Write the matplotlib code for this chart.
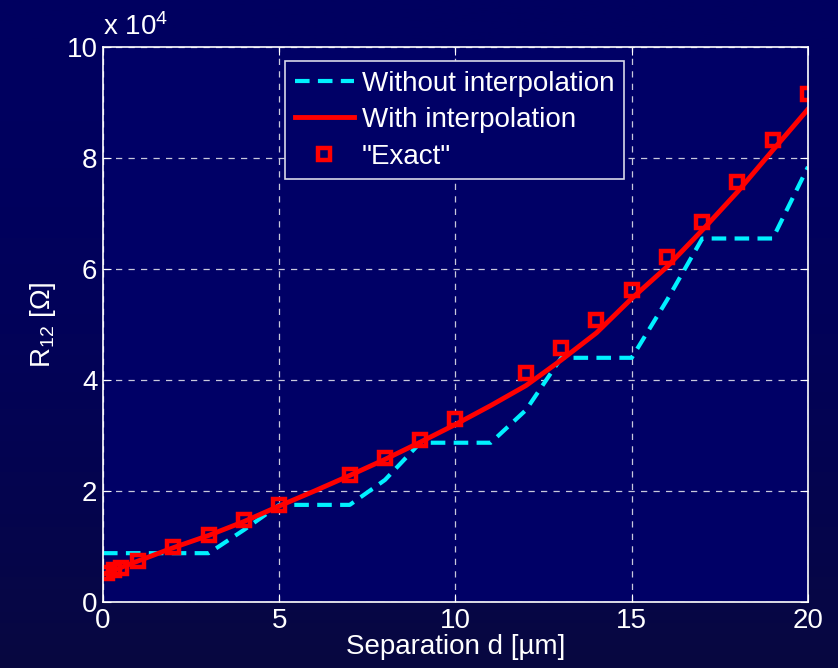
import numpy as np
import matplotlib.pyplot as plt
from matplotlib.colors import LinearSegmentedColormap

plt.rcParams['font.family'] = ['Liberation Sans', 'DejaVu Sans']
plt.rcParams['mathtext.default'] = 'regular'

# separation d [um]
d_grid = np.arange(0, 21)

# without interpolation (piecewise from coarse table)
r_nointerp = [8800, 8800, 8800, 8800, 13000, 17500, 17500, 17500, 22000, 28700,
              28700, 28700, 34600, 44000, 44000, 44000, 54400, 65500, 65500, 65500, 78400]

# with interpolation
r_interp = [5000, 7400, 9800, 12000, 14500, 17300, 20000, 22800, 25700, 28800,
            32000, 35400, 39000, 43600, 48500, 54700, 60400, 67000, 73900, 81400, 88800]

# "exact" reference points
d_exact = [0.1, 0.3, 0.5, 1, 2, 3, 4, 5, 7, 8, 9, 10, 12, 13, 14, 15, 16, 17, 18, 19, 20]
r_exact = [5300, 5800, 6200, 7440, 9860, 12100, 14800, 17400, 22900, 26000, 29200, 32900,
           41200, 45700, 50800, 56200, 62100, 68500, 75600, 83200, 91500]

navy = '#000066'

fig = plt.figure(figsize=(8.38, 6.68), dpi=100)

# background gradient
bg = fig.add_axes([0, 0, 1, 1], zorder=-10)
grad = np.linspace(0, 1, 256).reshape(-1, 1) ** 2
cmap = LinearSegmentedColormap.from_list('bg', ['#000060', '#080840'])
bg.imshow(grad, aspect='auto', cmap=cmap, extent=[0, 1, 0, 1], origin='upper')
bg.axis('off')

ax = fig.add_axes([0.1229, 0.0988, 0.8413, 0.8308])
ax.set_facecolor(navy)

ax.plot(d_grid, r_nointerp, color='#00f0ff', lw=3.0, dashes=(3.5, 2), label='Without interpolation')
ax.plot(d_grid, r_interp, color='#ff0000', lw=3.5, label='With interpolation')
ax.plot(d_exact, r_exact, ls='none', marker='s', ms=8.3, mfc='none', mec='#ff0000', mew=3.2,
        label='"Exact"')

ax.set_xlim(0, 20)
ax.set_ylim(0, 100000)
ax.set_xticks([0, 5, 10, 15, 20])
ax.set_yticks(np.arange(0, 100001, 20000))
ax.set_yticklabels([str(int(v / 1e4)) for v in np.arange(0, 100001, 20000)])

ax.grid(True, color='#c8c8dc', ls=(0, (5, 5)), lw=0.9)
ax.tick_params(direction='in', colors='white', labelsize=20, length=6, pad=4,
               top=True, right=True)
for s in ax.spines.values():
    s.set_color('white')
    s.set_linewidth(1.2)

ax.set_xlabel('Separation d [\u00b5m]', color='white', fontsize=20, labelpad=0)
ax.set_ylabel('R$_{12}$ [\u03a9]', color='white', fontsize=20, labelpad=6)
ax.text(0.0, 1.01, 'x 10$^{4}$', transform=ax.transAxes, color='white', fontsize=20,
        ha='left', va='bottom')

leg = ax.legend(loc='upper center', bbox_to_anchor=(0.499, 0.975), fontsize=20,
                facecolor=navy, edgecolor='#d8d8e8', framealpha=1, fancybox=False,
                handlelength=2.1, handletextpad=0.3, borderpad=0.35, labelspacing=0.38,
                borderaxespad=0)
leg.get_frame().set_linewidth(1.2)
for t in leg.get_texts():
    t.set_color('white')

plt.savefig('out.png', dpi=100, facecolor=fig.get_facecolor())
